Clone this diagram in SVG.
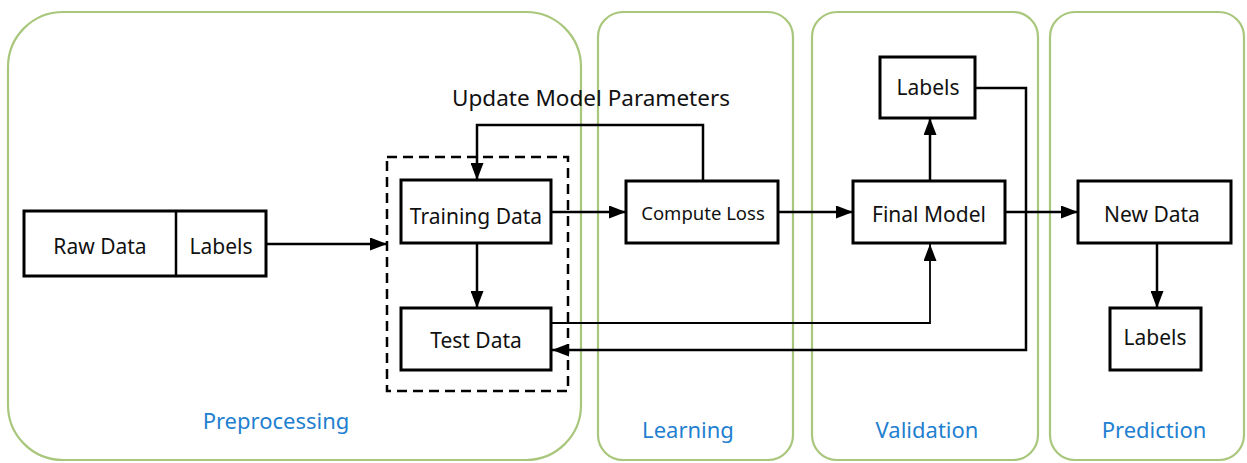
<svg xmlns="http://www.w3.org/2000/svg" width="1247" height="463" viewBox="0 0 1247 463">
<style>
.stage{fill:none;stroke:#a9c77c;stroke-width:2.2}
.box{fill:#fff;stroke:#000;stroke-width:3}
.t{font-family:"Noto Sans","Liberation Sans",sans-serif;font-size:21px;fill:#111;text-anchor:middle;dominant-baseline:central}
.s{font-size:18.5px}
.u{font-size:22.5px}
.lab{font-family:"Noto Sans","Liberation Sans",sans-serif;font-size:22px;fill:#1f7fd0;text-anchor:middle}
.c{fill:none;stroke:#000;stroke-width:2.5}
.thin{stroke-width:1.8}
</style>
<defs>
<marker id="a" viewBox="0 0 10 10" refX="10" refY="5" markerWidth="17" markerHeight="13" markerUnits="userSpaceOnUse" orient="auto" preserveAspectRatio="none">
<path d="M0,0 L10,5 L0,10 z" fill="#000"/>
</marker>
</defs>
<rect width="1247" height="463" fill="#fff"/>
<g id="stages">
<g id="preprocessing"><rect class="stage" x="8" y="12" width="573" height="448" rx="55"/><text class="lab" x="276" y="429">Preprocessing</text></g>
<g id="learning"><rect class="stage" x="598" y="12" width="195" height="448" rx="25"/><text class="lab" x="688" y="438">Learning</text></g>
<g id="validation"><rect class="stage" x="812" y="12" width="226" height="448" rx="25"/><text class="lab" x="927" y="438">Validation</text></g>
<g id="prediction"><rect class="stage" x="1050" y="12" width="194" height="448" rx="25"/><text class="lab" x="1154" y="438">Prediction</text></g>
</g>
<g id="dataset"><rect x="387" y="157" width="181" height="234" fill="none" stroke="#000" stroke-width="2.5" stroke-dasharray="10,6"/></g>
<g id="connectors">
<path class="c" d="M266,244 H387" marker-end="url(#a)"/>
<path class="c" d="M477,243 V308" marker-end="url(#a)"/>
<path class="c" d="M703,181 V125 H477 V180" marker-end="url(#a)"/>
<path class="c" d="M551,212 H626" marker-end="url(#a)"/>
<path class="c" d="M778,212 H853" marker-end="url(#a)"/>
<path class="c" d="M930,181 V118" marker-end="url(#a)"/>
<path class="c" d="M975,88 H1026 V350 H552" marker-end="url(#a)"/>
<path class="c thin" d="M551,323 H930 V244" marker-end="url(#a)"/>
<path class="c" d="M1005,212 H1078" marker-end="url(#a)"/>
<path class="c" d="M1157,243 V308" marker-end="url(#a)"/>
<text class="t u" x="591" y="97">Update Model Parameters</text>
</g>
<g id="rawdata"><rect class="box" x="24" y="211" width="242" height="65"/><line x1="176" y1="211" x2="176" y2="276" stroke="#000" stroke-width="2.5"/><text class="t" x="100" y="246">Raw Data</text><text class="t" x="221" y="246">Labels</text></g>
<g id="training"><rect class="box" x="401" y="180" width="150" height="63"/><text class="t" x="476" y="216">Training Data</text></g>
<g id="test"><rect class="box" x="401" y="308" width="150" height="62"/><text class="t" x="476" y="340">Test Data</text></g>
<g id="computeloss"><rect class="box" x="626" y="181" width="152" height="62"/><text class="t s" x="703" y="212">Compute Loss</text></g>
<g id="finalmodel"><rect class="box" x="853" y="181" width="152" height="62"/><text class="t" x="929" y="214">Final Model</text></g>
<g id="labels1"><rect class="box" x="880" y="57" width="95" height="61"/><text class="t" x="928" y="87">Labels</text></g>
<g id="newdata"><rect class="box" x="1078" y="181" width="153" height="62"/><text class="t" x="1152" y="214">New Data</text></g>
<g id="labels2"><rect class="box" x="1110" y="308" width="91" height="62"/><text class="t" x="1155" y="337">Labels</text></g>
</svg>
